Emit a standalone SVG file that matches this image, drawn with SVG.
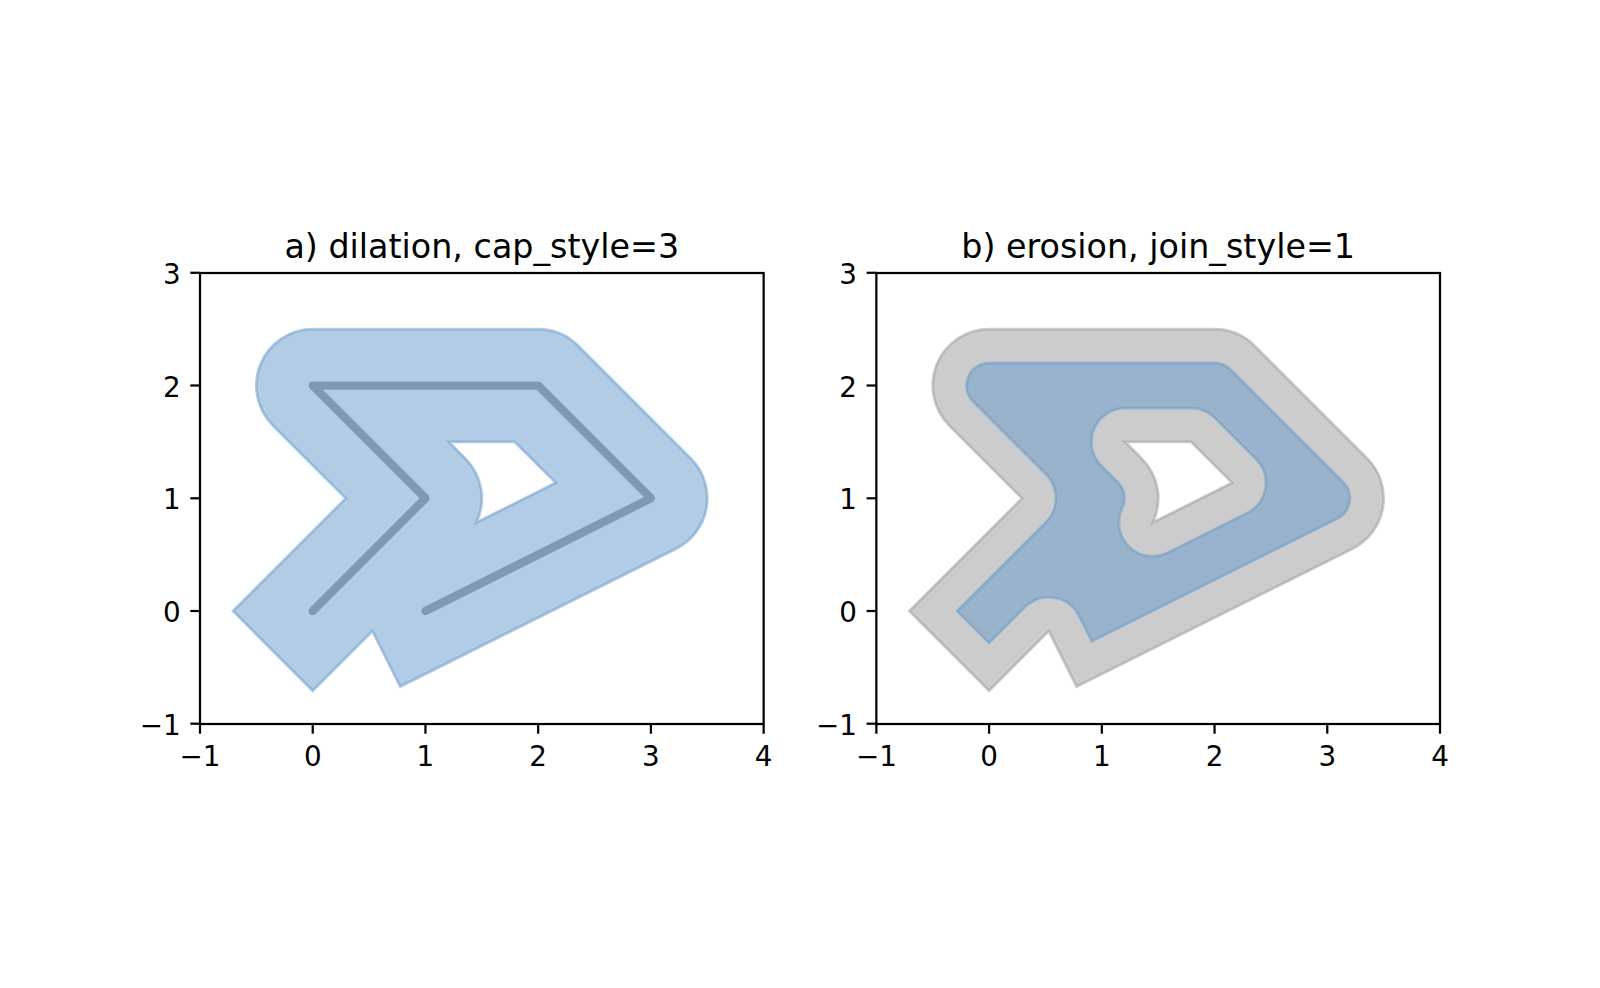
<svg xmlns="http://www.w3.org/2000/svg" width="1600" height="988" viewBox="0 0 1600 988">
<style>
text{font-family:"DejaVu Sans","Liberation Sans",sans-serif;fill:#000}
.title{font-size:33.33px;text-anchor:middle}
.xt{font-size:27.78px;text-anchor:middle}
.yt{font-size:27.78px;text-anchor:end}
.spine{fill:none;stroke:#000;stroke-width:2.22;stroke-linejoin:miter;stroke-linecap:square}
.tick{stroke:#000;stroke-width:2.22}
.blue{fill:#6699cc;fill-opacity:0.5;stroke:#6699cc;stroke-opacity:0.5;stroke-width:0.02466;fill-rule:evenodd}
.gray{fill:#999999;fill-opacity:0.5;stroke:#999999;stroke-opacity:0.5;stroke-width:0.02466;fill-rule:evenodd}
.line{fill:none;stroke:#999999;stroke-width:0.0739;stroke-linecap:round;stroke-linejoin:round}
</style>
<defs>
<path id="dilated" d="M -0.7071 0 L 0.2929 1 L -0.3536 1.6464 A 0.5 0.5 0 0 0 0 2.5 L 2 2.5 A 0.5 0.5 0 0 0 2.3536 2.3536 L 3.3536 1.3536 A 0.5 0.5 0 0 0 3.2236 0.5528 L 0.7764 -0.6708 L 0.5297 -0.1774 L 0 -0.7071 Z M 1.2071 1.5 L 1.7929 1.5 L 2.1559 1.1370 L 1.4513 0.7846 A 0.5 0.5 0 0 1 1.3536 1.3536 L 1.2071 1.5 Z"/>
<path id="eroded" d="M -0.2828 0 L 0.5050 0.7879 A 0.3 0.3 0 0 1 0.5050 1.2121 L -0.1414 1.8586 A 0.2 0.2 0 0 0 0 2.2 L 2 2.2 A 0.2 0.2 0 0 0 2.1414 2.1414 L 3.1414 1.1414 A 0.2 0.2 0 0 0 3.0894 0.8211 L 0.9106 -0.2683 L 0.7980 -0.0432 A 0.3 0.3 0 0 1 0.3176 0.0347 L 0 -0.2828 Z M 1.2071 1.8 L 1.7929 1.8 A 0.3 0.3 0 0 0 2.0050 1.7121 L 2.3680 1.3491 A 0.3 0.3 0 0 0 2.2901 0.8687 L 1.5855 0.5163 A 0.3 0.3 0 0 0 1.1805 0.9138 A 0.2 0.2 0 0 1 1.1414 1.1414 L 0.9950 1.2879 A 0.3 0.3 0 0 0 1.2071 1.8 Z"/>
</defs>
<rect width="1600" height="988" fill="#fff"/>

<g id="axes-a">
  <text class="title" x="481.8" y="258">a) dilation, cap_style=3</text>
  <g id="data-a" transform="matrix(112.727 0 0 -112.727 312.73 611.0)">
    <path id="line-a" class="line" d="M 0 0 L 1 1 L 0 2 L 2 2 L 3 1 L 1 0"/>
    <use id="dilated-a" href="#dilated" class="blue"/>
  </g>
  <rect class="spine" x="200" y="273" width="563.64" height="451"/>
  <g id="ticks-a" class="tick">
    <line x1="200" y1="724" x2="200" y2="733.7"/>
    <line x1="312.73" y1="724" x2="312.73" y2="733.7"/>
    <line x1="425.45" y1="724" x2="425.45" y2="733.7"/>
    <line x1="538.18" y1="724" x2="538.18" y2="733.7"/>
    <line x1="650.91" y1="724" x2="650.91" y2="733.7"/>
    <line x1="763.64" y1="724" x2="763.64" y2="733.7"/>
    <line x1="190.3" y1="723.7" x2="200" y2="723.7"/>
    <line x1="190.3" y1="611" x2="200" y2="611"/>
    <line x1="190.3" y1="498.3" x2="200" y2="498.3"/>
    <line x1="190.3" y1="385.5" x2="200" y2="385.5"/>
    <line x1="190.3" y1="272.8" x2="200" y2="272.8"/>
  </g>
  <text class="xt" x="200" y="766.3">−1</text>
  <text class="xt" x="312.73" y="766.3">0</text>
  <text class="xt" x="425.45" y="766.3">1</text>
  <text class="xt" x="538.18" y="766.3">2</text>
  <text class="xt" x="650.91" y="766.3">3</text>
  <text class="xt" x="763.64" y="766.3">4</text>
  <text class="yt" x="180.6" y="734.7">−1</text>
  <text class="yt" x="180.6" y="622">0</text>
  <text class="yt" x="180.6" y="509.3">1</text>
  <text class="yt" x="180.6" y="396.5">2</text>
  <text class="yt" x="180.6" y="283.8">3</text>
</g>

<g id="axes-b">
  <text class="title" x="1158.2" y="258">b) erosion, join_style=1</text>
  <g id="data-b" transform="matrix(112.727 0 0 -112.727 989.09 611.0)">
    <use id="dilated-b" href="#dilated" class="gray"/>
    <use id="eroded-b" href="#eroded" class="blue"/>
  </g>
  <rect class="spine" x="876.36" y="273" width="563.64" height="451"/>
  <g id="ticks-b" class="tick">
    <line x1="876.36" y1="724" x2="876.36" y2="733.7"/>
    <line x1="989.09" y1="724" x2="989.09" y2="733.7"/>
    <line x1="1101.82" y1="724" x2="1101.82" y2="733.7"/>
    <line x1="1214.55" y1="724" x2="1214.55" y2="733.7"/>
    <line x1="1327.27" y1="724" x2="1327.27" y2="733.7"/>
    <line x1="1440" y1="724" x2="1440" y2="733.7"/>
    <line x1="866.6" y1="723.7" x2="876.36" y2="723.7"/>
    <line x1="866.6" y1="611" x2="876.36" y2="611"/>
    <line x1="866.6" y1="498.3" x2="876.36" y2="498.3"/>
    <line x1="866.6" y1="385.5" x2="876.36" y2="385.5"/>
    <line x1="866.6" y1="272.8" x2="876.36" y2="272.8"/>
  </g>
  <text class="xt" x="876.36" y="766.3">−1</text>
  <text class="xt" x="989.09" y="766.3">0</text>
  <text class="xt" x="1101.82" y="766.3">1</text>
  <text class="xt" x="1214.55" y="766.3">2</text>
  <text class="xt" x="1327.27" y="766.3">3</text>
  <text class="xt" x="1440" y="766.3">4</text>
  <text class="yt" x="856.9" y="734.7">−1</text>
  <text class="yt" x="856.9" y="622">0</text>
  <text class="yt" x="856.9" y="509.3">1</text>
  <text class="yt" x="856.9" y="396.5">2</text>
  <text class="yt" x="856.9" y="283.8">3</text>
</g>
</svg>
